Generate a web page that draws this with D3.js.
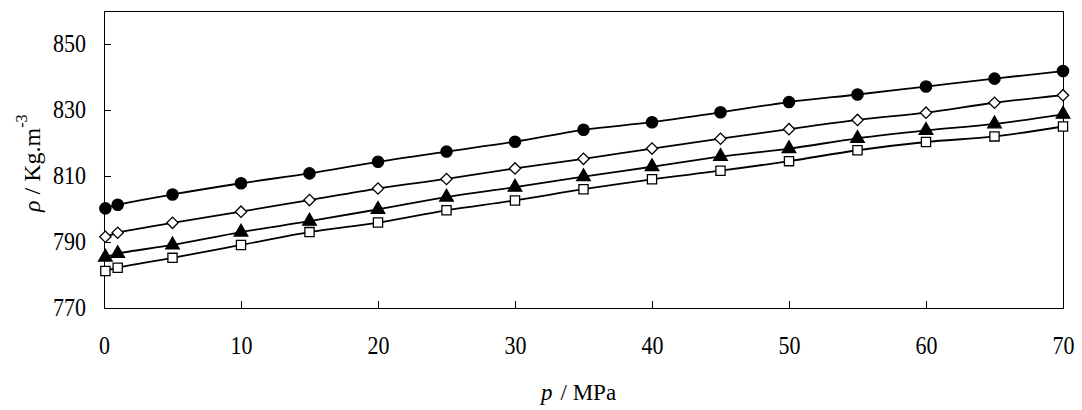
<!DOCTYPE html>
<meta charset="utf-8">
<style>
    body { margin: 0; background: #fff; }
    svg text { font-family: "Liberation Serif", "Times New Roman", serif; fill: #000; }
    .axis path, .axis line { stroke: #000; stroke-width: 1px; shape-rendering: crispEdges; }
</style>
<body>
<svg width="1082" height="410"></svg>
<script src="https://d3js.org/d3.v7.min.js"></script>
<script>
    // pressure (MPa)
    var pressure = [0.1, 1, 5, 10, 15, 20, 25, 30, 35, 40, 45, 50, 55, 60, 65, 70];
    // density series (kg/m3)
    var circles  = [800.2, 801.3, 804.4, 807.8, 810.8, 814.3, 817.4, 820.4, 824.0, 826.3, 829.3, 832.4, 834.7, 837.1, 839.5, 841.8];
    var diamonds = [791.6, 792.8, 795.8, 799.2, 802.7, 806.2, 809.1, 812.3, 815.2, 818.3, 821.3, 824.2, 827.0, 829.2, 832.2, 834.5];
    var triangles = [785.4, 786.5, 789.1, 793.0, 796.3, 799.9, 803.6, 806.6, 809.8, 812.8, 815.9, 818.3, 821.4, 823.8, 825.8, 828.7];
    var squares  = [781.2, 782.2, 785.2, 789.1, 793.0, 795.9, 799.6, 802.6, 806.0, 809.0, 811.6, 814.5, 817.8, 820.3, 822.0, 825.0];
    var xTicks = [0, 10, 20, 30, 40, 50, 60, 70];
    var yTicks = [770, 790, 810, 830, 850];

    var svg = d3.select("svg"),
        margin = { top: 11, right: 19, bottom: 102, left: 104 },
        width = +svg.attr("width") - margin.left - margin.right,
        height = +svg.attr("height") - margin.top - margin.bottom;

    var x = d3.scaleLinear().domain([0, 70]).range([0, width]);
    var y = d3.scaleLinear().domain([770, 860]).range([height, 0]);

    var g = svg.append("g")
        .attr("transform", "translate(" + margin.left + "," + margin.top + ")");

    // frame
    g.append("rect")
        .attr("x", 0).attr("y", 0)
        .attr("width", width).attr("height", height)
        .attr("fill", "none").attr("stroke", "#000")
        .attr("shape-rendering", "crispEdges");

    // tick labels look a little taller than wide in the original
    function stretch(a) {
        a.selectAll("text")
            .attr("font-size", "22px")
            .attr("transform", function() {
                var t = d3.select(this), tx = +t.attr("x") || 0, ty = +t.attr("y") || 0;
                return "translate(" + tx + "," + ty + ") scale(1,1.12) translate(" + (-tx) + "," + (-ty) + ")";
            });
    }

    g.append("g")
        .attr("class", "x axis")
        .attr("transform", "translate(0," + height + ")")
        .call(d3.axisBottom(x).tickValues(xTicks).tickSizeInner(-7).tickSizeOuter(0).tickPadding(29))
        .call(stretch);

    g.append("g")
        .attr("class", "y axis")
        .call(d3.axisLeft(y).tickValues(yTicks).tickSizeInner(-7).tickSizeOuter(0).tickPadding(18))
        .call(stretch);

    var series = [
        { values: circles, shape: d3.symbolCircle, size: 100, fill: "#000", rot: 0 },
        { values: diamonds, shape: d3.symbolSquare, size: 64, fill: "#fff", rot: 45 },
        { values: triangles, shape: d3.symbolTriangle, size: 80, fill: "#000", rot: 0 },
        { values: squares, shape: d3.symbolSquare, size: 85, fill: "#fff", rot: 0 }
    ];

    var line = d3.line()
        .x(function(d) { return x(d[0]); })
        .y(function(d) { return y(d[1]); })
        .curve(d3.curveCatmullRom);

    series.forEach(function(s) {
        var pts = pressure.map(function(p, i) { return [p, s.values[i]]; });
        g.append("path")
            .datum(pts)
            .attr("d", line)
            .attr("fill", "none")
            .attr("stroke", "#000")
            .attr("stroke-width", 1.8);
        g.selectAll(null)
            .data(pts)
            .enter().append("path")
            .attr("transform", function(d) {
                return "translate(" + x(d[0]) + "," + y(d[1]) + ") rotate(" + s.rot + ")";
            })
            .attr("d", d3.symbol().type(s.shape).size(s.size))
            .attr("fill", s.fill)
            .attr("stroke", "#000")
            .attr("stroke-width", 1.3);
    });

    // axis titles
    var xt = svg.append("text")
        .attr("x", 541)
        .attr("y", 400)
        .attr("font-size", "23px");
    xt.append("tspan").attr("font-style", "italic").text("p");
    xt.append("tspan").attr("dx", 8).text("/ MPa");

    var yt = svg.append("text")
        .attr("transform", "translate(40,212) rotate(-90)")
        .attr("font-size", "24px");
    yt.append("tspan").attr("font-style", "italic").text("ρ");
    yt.append("tspan").text(" / Kg.m");
    yt.append("tspan").attr("font-size", "16px").attr("dy", -13).text("-3");
</script>
</body>
